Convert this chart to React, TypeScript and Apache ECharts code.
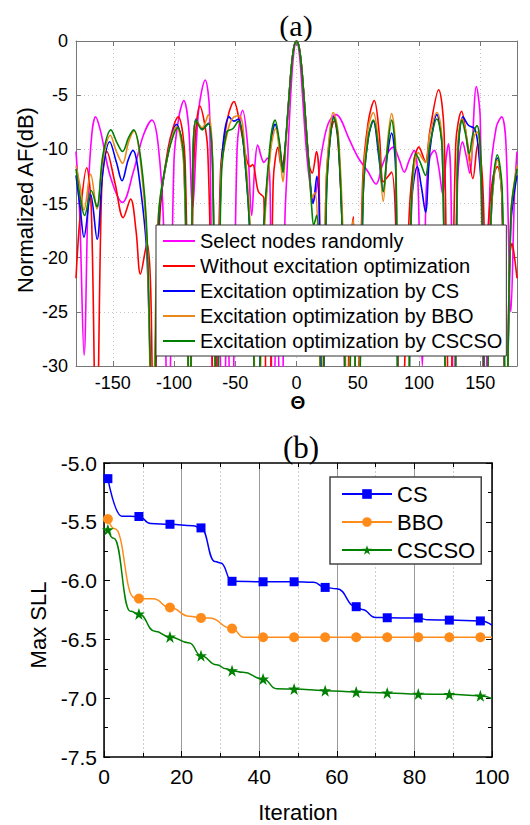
import React, { useEffect, useRef } from "react";
import * as echarts from "echarts";

const SANS = "'Liberation Sans', Arial, sans-serif";
const SERIF = "'Liberation Serif', 'Times New Roman', serif";

// ---------- chart (a): array factor ----------
const thetaTicks = [-150, -100, -50, 0, 50, 100, 150];
const afNames = [
  "Select nodes randomly",
  "Without excitation optimization",
  "Excitation optimization by CS",
  "Excitation optimization by BBO",
  "Excitation optimization by CSCSO",
];
const afColors = ["#ff00ff", "#ff0000", "#0000ff", "#e8891c", "#008000"];

const randomNodes = [
  [-180, -10.2], [-177, -16], [-173.4, -29], [-170, -14], [-167, -8.5], [-164, -7.0], [-160, -8.3],
  [-152, -12.5], [-142, -14.9], [-133, -12], [-125, -8.7], [-118, -7.3], [-113, -9.5], [-108.5, -17],
  [-104.8, -40], [-100, -11], [-96, -7], [-92, -5.5], [-88, -8], [-84.9, -15.5], [-80, -6.5],
  [-74.5, -3.6], [-71, -6.5], [-67.5, -40], [-63.5, -24], [-60, -40], [-56.5, -24], [-53, -40],
  [-48.5, -10], [-44, -6.4], [-40, -9.5], [-36.6, -16.1], [-34, -11.5], [-31.7, -9.6], [-28.5, -10.8],
  [-26.6, -11.2], [-23.8, -10.8], [-21.5, -14], [-19.5, -40], [-16, -24], [-12.5, -40], [-9.5, -16.7],
  [-7.5, -11.5], [-5, -5.5], [-2.5, -1.4], [0, 0], [2.5, -1.4], [5, -5.2], [8, -10], [11, -13.2],
  [13.8, -14.8], [17, -13.2], [21, -10], [26, -7.6], [32, -6.8], [36, -7.2], [42, -8.8], [50.5, -10.8],
  [58, -12], [65, -13.2], [70, -11.5], [74, -10.4], [79, -9.8], [84, -11], [88, -12.1], [92, -11],
  [96, -10.1], [99, -12.5], [102.7, -30], [106, -13.5], [109, -10.7], [112.6, -10.1], [116, -11.6],
  [119.5, -14.2], [122, -11], [124, -9.5], [126, -13], [128.5, -40], [131.5, -13], [135.6, -9.3],
  [138.5, -10.6], [141.4, -12.2], [146.8, -4.2], [150, -7.2], [153.5, -40], [158, -13], [163, -8],
  [167.5, -7.0], [171, -9.5], [175, -25], [178, -14], [180, -10.2],
];

const noOptimization = [
  [-180, -21.9], [-176.5, -16], [-171.3, -11.7], [-167.5, -15.5], [-163.3, -40], [-159, -13.5],
  [-154.8, -10.2], [-148, -13.2], [-141.5, -16.3], [-135.4, -14.6], [-131, -17.5], [-127.4, -21.5],
  [-122, -18.7], [-119, -23], [-116.5, -40], [-112, -17], [-105, -10], [-96.6, -7.0], [-91, -11],
  [-87, -40], [-84, -12], [-78.9, -6.0], [-72.5, -10], [-66.6, -40], [-62, -12], [-56, -7],
  [-51.1, -5.6], [-46, -7.8], [-41, -10.8], [-38, -11.6], [-35.8, -11.4], [-31.2, -13.9],
  [-26.6, -14.5], [-24.5, -40], [-22.5, -40], [-19, -13], [-15, -9.8], [-12.5, -11.5], [-11, -11.3],
  [-9, -9.5], [-6, -5], [-4, -2.2], [-2, -0.5], [0, 0], [2, -0.5], [4, -2.2], [6, -5], [8.5, -9],
  [10.5, -11.5], [12.8, -12.2], [16.3, -10.2], [18.5, -13], [20.5, -40], [24, -14], [27, -9],
  [30.8, -7.4], [34, -9.5], [37.5, -18], [41, -40], [44, -19], [46.5, -16.2], [49, -40], [54, -13],
  [58.5, -7.5], [63.5, -5.5], [67.5, -8.5], [70.8, -13], [74, -12.6], [77.6, -12.1], [81, -17],
  [85, -40], [92, -16], [96, -11], [100, -9.8], [102.5, -10.4], [105.3, -11.2], [109, -8.2],
  [116, -4.5], [120.5, -8.5], [125, -40], [130, -9.5], [134.8, -6.5], [139, -9], [144, -12.7],
  [148, -9.5], [151.6, -12.4], [154.5, -20], [157.5, -15.5], [160.5, -12.5], [164, -11.6],
  [167.5, -14], [171, -40], [174, -20], [176, -18.7], [178, -20], [180, -21.9],
];

const optCS = [
  [-180, -12.4], [-176.5, -15.5], [-173.5, -18.1], [-168, -14.2], [-162.8, -18.3], [-158, -12],
  [-152.5, -9.3], [-147, -11.2], [-142.4, -12.9], [-137.5, -11], [-133.5, -10.1], [-128, -13],
  [-122, -20], [-117, -40], [-112.5, -16.5], [-105, -10.5], [-98, -7.7], [-92, -11], [-87, -40],
  [-85, -14], [-82, -7.2], [-77, -8.1], [-72, -7.6], [-68.5, -11.5], [-65, -40], [-61.5, -12],
  [-55, -7.0], [-51, -7.4], [-47.5, -7.2], [-43, -9.8], [-37, -20], [-32, -40], [-27.5, -19],
  [-21, -9.5], [-17.5, -7.7], [-14, -9.5], [-11, -12.1], [-9, -9.5], [-6, -5], [-4, -2.2], [-2, -0.5],
  [0, 0], [2, -0.5], [4, -2.2], [6, -5], [8.5, -9], [10.5, -12], [13.5, -15], [16.6, -12.5],
  [18.8, -17], [21, -40], [24.5, -14], [27.5, -9], [30.5, -7.0], [34, -9], [38, -20], [41, -40],
  [46, -22], [50, -40], [54.5, -14], [58.5, -9], [62.7, -7.4], [67, -10.5], [70.8, -13.9],
  [74.2, -10.5], [77.6, -8.5], [81, -12], [84.5, -40], [90, -40], [94, -15], [98.7, -11.6],
  [102, -13.5], [105.3, -15.8], [109, -10], [114.5, -6.8], [119, -10], [123.5, -40], [128, -40],
  [131.5, -11.5], [136, -7.0], [140.5, -7.8], [145.5, -8.1], [148.5, -10], [151.5, -15], [154.5, -40],
  [159, -16], [164, -10.8], [168, -15], [171, -40], [175, -17], [180, -12.4],
];

const optBBO = [
  [-180, -11.5], [-176.5, -13.5], [-173.5, -15.6], [-168, -12.3], [-163, -15.5], [-158, -11],
  [-152, -8.7], [-147, -10.2], [-142, -11.3], [-137, -9.3], [-132.6, -8.3], [-127.5, -11], [-122, -19],
  [-117.5, -40], [-113, -16.5], [-105, -10.5], [-98, -7.9], [-92, -11.5], [-87, -40], [-85, -14],
  [-82, -7.3], [-77, -8.0], [-72, -6.8], [-68.5, -11], [-65, -40], [-61.5, -12], [-55.7, -8.1],
  [-51, -7.0], [-46.5, -6.9], [-42.5, -9.5], [-37, -19], [-31.5, -40], [-27, -19], [-21, -10],
  [-17, -8.1], [-14, -10], [-11, -13.0], [-9, -10], [-6, -5], [-4, -2.2], [-2, -0.5], [0, 0], [2, -0.5],
  [4, -2.2], [6, -5], [8.5, -9], [10.5, -12], [12.5, -14.5], [15, -14], [17.5, -18], [20.5, -40],
  [24, -14], [27, -8.5], [30, -6.6], [34, -8.5], [38, -18], [42, -40], [44.5, -18], [46.5, -16.5],
  [49, -40], [54.5, -13], [58.5, -8], [62.7, -6.6], [67, -9.5], [70.8, -14.8], [74.2, -9.5],
  [77.6, -6.7], [81, -10], [84.5, -40], [90, -40], [93.5, -16], [99.5, -10.3], [105.3, -11.2],
  [109, -8.5], [114.7, -6.6], [119, -9.5], [123.5, -40], [128, -40], [131.5, -10], [135, -7.2],
  [138, -8.2], [141.5, -11.3], [145, -8.8], [147.5, -8.4], [150.5, -12], [154.5, -40], [159, -16],
  [164, -11], [168, -15], [171, -40], [175, -16], [180, -11.5],
];

const optCSCSO = [
  [-180, -11.8], [-176.5, -14.5], [-173, -16.1], [-167.5, -13.8], [-163, -15.3], [-158, -10.5],
  [-151.5, -8.2], [-146.5, -9.4], [-142, -10.2], [-137, -8.9], [-133, -8.2], [-127, -11], [-122, -18],
  [-117, -40], [-112.5, -16], [-105, -10.5], [-97, -8.0], [-91.5, -11.5], [-87, -40], [-85, -14],
  [-82, -7.3], [-77, -8.2], [-72, -7.6], [-68.5, -11.5], [-65, -40], [-61.5, -13], [-57, -8.4],
  [-52, -8.1], [-47.5, -7.4], [-43, -9.8], [-37, -20], [-32, -40], [-27.5, -19], [-21.5, -9.5],
  [-17.5, -7.3], [-14, -9.3], [-11, -12.1], [-9, -9.5], [-6, -5], [-4, -2.2], [-2, -0.5], [0, 0],
  [2, -0.5], [4, -2.2], [6, -5], [8.5, -9], [10.5, -12], [12.5, -15.5], [14, -17], [16.5, -16.1],
  [18.5, -20], [20.5, -40], [24.5, -14], [27.5, -9], [30.5, -7.1], [34, -9], [38, -20], [41.5, -40],
  [46, -22], [50, -40], [54.5, -14], [58.5, -9], [62.7, -7.3], [67, -10], [70.8, -13.9], [74.2, -10],
  [77.6, -7.3], [81, -11], [84.5, -40], [90, -40], [93.5, -16], [97.3, -10.4], [101, -11.2],
  [105.3, -12.4], [109, -9.5], [114.5, -7.2], [119, -10], [123.5, -40], [128, -40], [131.5, -11],
  [135, -7.3], [138, -8.6], [141, -10.4], [144, -8.6], [147.3, -7.8], [150.5, -11], [154.5, -40],
  [159, -15.5], [164, -10.5], [168, -14], [171, -40], [175, -16], [180, -11.8],
];

const afData = [randomNodes, noOptimization, optCS, optBBO, optCSCSO];

// ---------- chart (b): convergence ----------
const convNames = ["CS", "BBO", "CSCSO"];
const convColors = ["#0000ff", "#ff8c1a", "#008000"];
const iterMarkers = [1, 9, 17, 25, 33, 41, 49, 57, 65, 73, 81, 89, 97];

const csCurve = [
  [1, -5.133], [4.6, -5.452], [9, -5.455], [12, -5.515], [17, -5.521], [22.9, -5.533], [25, -5.552],
  [28.6, -5.838], [30.1, -5.85], [33, -6.006], [41, -6.01], [49, -6.01], [54, -6.015], [57, -6.058],
  [60, -6.07], [65, -6.222], [66.5, -6.245], [70, -6.313], [73, -6.316], [81, -6.318], [83.5, -6.333],
  [89, -6.336], [97, -6.343], [100, -6.378],
];
const bboCurve = [
  [1, -5.476], [2.8, -5.56], [7.8, -6.145], [9, -6.153], [12.7, -6.155], [17, -6.229], [22, -6.303],
  [25, -6.317], [27.1, -6.318], [33, -6.408], [36, -6.482], [41, -6.482], [49, -6.482], [57, -6.482],
  [65, -6.482], [73, -6.482], [81, -6.482], [89, -6.482], [97, -6.482], [100, -6.482],
];
const cscsoCurve = [
  [1, -5.567], [2.5, -5.64], [6.8, -6.26], [9, -6.283], [13.1, -6.43], [17, -6.479], [22, -6.53],
  [25, -6.638], [29, -6.715], [31.5, -6.75], [33, -6.766], [35.8, -6.78], [41, -6.837], [44.5, -6.92],
  [49, -6.922], [57, -6.936], [65, -6.947], [73, -6.955], [81, -6.965], [89, -6.967], [97, -6.98],
  [100, -7.004],
];
const convData = [csCurve, bboCurve, cscsoCurve];

const STAR =
  "path://M50,2 L61.8,36.2 L97.6,36.2 L68.6,57.6 L79.6,92 L50,70.8 L20.4,92 L31.4,57.6 L2.4,36.2 L38.2,36.2 Z";
const convSymbols = ["rect", "circle", STAR];
const convSymbolSizes = [9, 10, 12];

export default function App() {
  const ref = useRef<HTMLDivElement>(null);

  useEffect(() => {
    if (!ref.current) return;
    const chart = echarts.init(ref.current, null, { renderer: "svg" });

    const frameA = "#777";
    const frameB = "#000";

    const afSeries = afData.map((d, i) => ({
      type: "line",
      name: afNames[i],
      xAxisIndex: 0,
      yAxisIndex: 0,
      data: d,
      symbol: "none",
      smooth: 0.35,
      clip: true,
      color: afColors[i],
      lineStyle: { color: afColors[i], width: 1.6 },
      z: 2 + i * 0.1,
    }));

    const convSeries = convData.map((d, i) => ({
      type: "line",
      name: convNames[i],
      xAxisIndex: 2,
      yAxisIndex: 2,
      data: d.map(([x, y]) =>
        iterMarkers.includes(x) ? [x, y] : { value: [x, y], symbol: "none" }
      ),
      symbol: convSymbols[i],
      symbolSize: convSymbolSizes[i],
      showSymbol: true,
      smooth: 0.5,
      smoothMonotone: "x",
      color: convColors[i],
      itemStyle: { color: convColors[i] },
      lineStyle: { color: convColors[i], width: 1.5 },
    }));

    const option: any = {
      animation: false,
      backgroundColor: "#fff",
      grid: [
        { left: 76, top: 41, width: 441, height: 325, outerBoundsMode: "none" },
        { left: 104, top: 463, width: 388, height: 294, outerBoundsMode: "none" },
      ],
      xAxis: [
        {
          type: "value", gridIndex: 0, min: -180, max: 180, position: "bottom",
          axisLine: { show: true, onZero: false, lineStyle: { color: frameA, width: 1 } },
          axisTick: { show: true, inside: true, length: 5, customValues: thetaTicks, lineStyle: { color: frameA } },
          axisLabel: { customValues: thetaTicks, fontSize: 18, color: "#000", margin: 8, fontFamily: SANS },
          splitLine: { show: true, lineStyle: { type: [1, 3], color: "#c4c4c4", width: 1 } },
        },
        {
          type: "value", gridIndex: 0, min: -180, max: 180, position: "top",
          axisLine: { show: true, onZero: false, lineStyle: { color: frameA, width: 1 } },
          axisTick: { show: true, inside: true, length: 5, customValues: thetaTicks, lineStyle: { color: frameA } },
          axisLabel: { show: false, customValues: thetaTicks },
          splitLine: { show: false },
        },
        {
          type: "value", gridIndex: 1, min: 0, max: 100, interval: 20, position: "bottom",
          axisLine: { show: true, onZero: false, lineStyle: { color: frameB, width: 1.5 } },
          axisTick: { show: true, inside: true, length: 6, lineStyle: { color: frameB } },
          minorTick: { show: true, splitNumber: 2, length: 4, lineStyle: { color: frameB } },
          axisLabel: { fontSize: 21, color: "#000", margin: 9, fontFamily: SANS },
          splitLine: { show: true, lineStyle: { color: "#9a9a9a", width: 1 } },
          minorSplitLine: { show: true, lineStyle: { type: [2, 2], color: "#cfcfcf", width: 1 } },
        },
        {
          type: "value", gridIndex: 1, min: 0, max: 100, interval: 20, position: "top",
          axisLine: { show: true, onZero: false, lineStyle: { color: frameB, width: 1.5 } },
          axisTick: { show: true, inside: true, length: 6, lineStyle: { color: frameB } },
          minorTick: { show: true, splitNumber: 2, length: 4, lineStyle: { color: frameB } },
          axisLabel: { show: false },
          splitLine: { show: false },
        },
      ],
      yAxis: [
        {
          type: "value", gridIndex: 0, min: -30, max: 0, interval: 5, position: "left",
          axisLine: { show: true, onZero: false, lineStyle: { color: frameA, width: 1 } },
          axisTick: { show: true, inside: true, length: 5, lineStyle: { color: frameA } },
          axisLabel: { fontSize: 18, color: "#000", margin: 8, fontFamily: SANS },
          splitLine: { show: true, lineStyle: { type: [1, 3], color: "#c4c4c4", width: 1 } },
        },
        {
          type: "value", gridIndex: 0, min: -30, max: 0, interval: 5, position: "right",
          axisLine: { show: true, onZero: false, lineStyle: { color: frameA, width: 1 } },
          axisTick: { show: true, inside: true, length: 5, lineStyle: { color: frameA } },
          axisLabel: { show: false },
          splitLine: { show: false },
        },
        {
          type: "value", gridIndex: 1, min: -7.5, max: -5, interval: 0.5, position: "left",
          axisLine: { show: true, onZero: false, lineStyle: { color: frameB, width: 1.5 } },
          axisTick: { show: true, inside: true, length: 6, lineStyle: { color: frameB } },
          minorTick: { show: true, splitNumber: 2, length: 4, lineStyle: { color: frameB } },
          axisLabel: {
            fontSize: 21, color: "#000", margin: 7, fontFamily: SANS,
            formatter: (v: number) => v.toFixed(1),
          },
          splitLine: { show: false },
        },
        {
          type: "value", gridIndex: 1, min: -7.5, max: -5, interval: 0.5, position: "right",
          axisLine: { show: true, onZero: false, lineStyle: { color: frameB, width: 1.5 } },
          axisTick: { show: true, inside: true, length: 6, lineStyle: { color: frameB } },
          minorTick: { show: true, splitNumber: 2, length: 4, lineStyle: { color: frameB } },
          axisLabel: { show: false },
          splitLine: { show: false },
        },
      ],
      legend: [
        {
          data: afNames.map((n) => ({ name: n, icon: "rect" })),
          orient: "vertical",
          left: 156,
          top: 225,
          itemWidth: 32,
          itemHeight: 2,
          itemGap: 5,
          padding: [6, 4, 5, 7],
          backgroundColor: "#fff",
          borderColor: "#333",
          borderWidth: 1,
          selectedMode: false,
          textStyle: { fontFamily: SANS, fontSize: 20, lineHeight: 20, color: "#000" },
        },
        {
          data: convNames,
          orient: "vertical",
          left: 330,
          top: 477,
          itemWidth: 50,
          itemHeight: 12,
          itemGap: 6,
          padding: [6, 6, 3, 11],
          backgroundColor: "#fff",
          borderColor: "#444",
          borderWidth: 1.5,
          selectedMode: false,
          textStyle: { fontFamily: SANS, fontSize: 22, lineHeight: 22, color: "#000" },
        },
      ],
      graphic: [
        { type: "text", x: 296, y: 25, style: { text: "(a)", fontFamily: SERIF, fontSize: 30, fill: "#000", align: "center", verticalAlign: "middle" } },
        { type: "text", x: 301, y: 447, style: { text: "(b)", fontFamily: SERIF, fontSize: 31, fill: "#000", align: "center", verticalAlign: "middle" } },
        { type: "text", x: 298, y: 402, style: { text: "Θ", fontFamily: SANS, fontSize: 19, lineHeight: 18, fontWeight: "bold", fill: "#000", align: "center", verticalAlign: "middle" } },
        { type: "text", x: 25, y: 200, rotation: Math.PI / 2, style: { text: "Normalized AF(dB)", fontFamily: SANS, fontSize: 22, fill: "#000", align: "center", verticalAlign: "middle" } },
        { type: "text", x: 38, y: 625, rotation: Math.PI / 2, style: { text: "Max SLL", fontFamily: SANS, fontSize: 22, fill: "#000", align: "center", verticalAlign: "middle" } },
        { type: "text", x: 298, y: 812, style: { text: "Iteration", fontFamily: SANS, fontSize: 22, fill: "#000", align: "center", verticalAlign: "middle" } },
      ],
      series: [...afSeries, ...convSeries],
    };

    chart.setOption(option);
    return () => chart.dispose();
  }, []);

  return (
    <div
      ref={ref}
      style={{ position: "fixed", left: 0, top: 0, width: 530, height: 825, background: "#fff" }}
    />
  );
}
